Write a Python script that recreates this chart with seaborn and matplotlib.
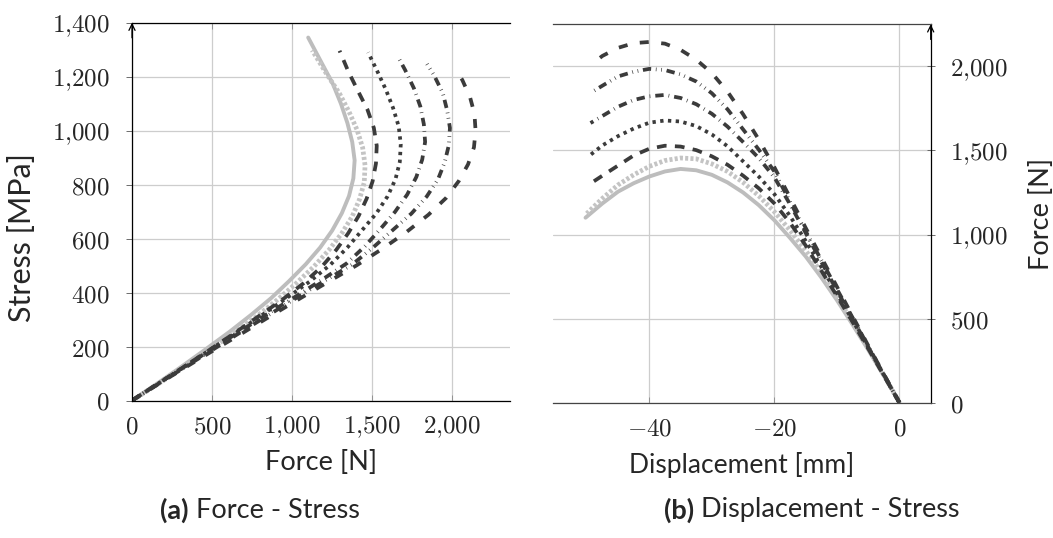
import numpy as np
import pandas as pd
import matplotlib
matplotlib.use("Agg")
import matplotlib.pyplot as plt
from matplotlib.ticker import FuncFormatter, FixedLocator
import seaborn as sns

# ---------------- data ----------------
curve_names = ["ref", "noisy", "c1", "c2", "c3", "c4", "c5"]
disp_grid = [0, -2.5, -5, -7.5, -10, -12.5, -15, -17.5, -20, -22.5, -25,
             -27.5, -30, -32.5, -35, -37.5, -40, -42.5, -45, -47.5]
end_disp = [-50.2, -50.0, -49.7, -49.4, -49.4, -49.4, -48.4]

force_ref = [0, 160, 315, 465, 610, 745, 870, 980, 1085, 1175, 1250, 1310, 1355,
             1382, 1390, 1375, 1345, 1305, 1255, 1185, 1100]
stress_ref = [0, 64, 128, 192, 255, 318, 380, 442, 505, 567, 630, 694, 758, 823,
              890, 958, 1028, 1099, 1172, 1250, 1345]

force_noisy = [0, 165, 325, 480, 630, 775, 905, 1025, 1135, 1230, 1310, 1375, 1420,
               1450, 1455, 1440, 1405, 1355, 1295, 1215, 1125]
stress_noisy = [0, 62, 124, 186, 248, 310, 372, 434, 496, 558, 620, 682, 745, 808,
                872, 937, 1003, 1070, 1138, 1210, 1298]

force_c1 = [0, 162, 322, 480, 635, 785, 935, 1070, 1185, 1275, 1350, 1415, 1465,
            1502, 1523, 1528, 1510, 1470, 1410, 1350, 1296]
stress_c1 = [0, 62, 124, 186, 248, 310, 372, 434, 496, 558, 620, 684, 748, 812,
             878, 944, 1010, 1078, 1148, 1220, 1296]

force_c2 = [0, 165, 328, 490, 650, 808, 962, 1110, 1240, 1345, 1435, 1525, 1595,
            1645, 1672, 1678, 1665, 1630, 1585, 1530, 1474]
stress_c2 = [0, 63, 126, 189, 252, 315, 378, 441, 504, 567, 630, 693, 756, 820,
             884, 950, 1016, 1084, 1152, 1222, 1290]

force_c3 = [0, 166, 332, 500, 668, 838, 1010, 1180, 1340, 1455, 1550, 1642, 1718,
            1775, 1812, 1830, 1822, 1800, 1760, 1705, 1663]
stress_c3 = [0, 64, 127, 191, 254, 318, 381, 445, 508, 572, 635, 699, 763, 828,
             893, 958, 1024, 1090, 1157, 1225, 1271]

force_c4 = [0, 168, 336, 506, 676, 848, 1020, 1195, 1375, 1505, 1625, 1745, 1840,
            1910, 1952, 1978, 1985, 1968, 1940, 1885, 1842]
stress_c4 = [0, 63, 126, 189, 252, 315, 378, 441, 504, 567, 630, 693, 756, 819,
             882, 946, 1010, 1074, 1140, 1206, 1247]

force_c5 = [0, 170, 340, 515, 690, 865, 1040, 1220, 1400, 1565, 1715, 1850, 1960,
            2040, 2098, 2135, 2145, 2138, 2110, 2062, 2036]
stress_c5 = [0, 63, 125, 188, 250, 313, 375, 438, 500, 563, 625, 688, 750, 813,
             875, 938, 1000, 1063, 1125, 1188, 1212]

force_ticks_left = [0, 500, 1000, 1500, 2000]
stress_ticks = [0, 200, 400, 600, 800, 1000, 1200, 1400]
disp_ticks = [-40, -20, 0]
force_ticks_right = [0, 500, 1000, 1500, 2000]

forces = [force_ref, force_noisy, force_c1, force_c2, force_c3, force_c4, force_c5]
stresses = [stress_ref, stress_noisy, stress_c1, stress_c2, stress_c3, stress_c4, stress_c5]

rows = []
for name, ed, f, s in zip(curve_names, end_disp, forces, stresses):
    d = disp_grid + [ed]
    for i in range(len(d)):
        rows.append({"curve": name, "order": i, "disp": d[i], "force": f[i], "stress": s[i]})
df = pd.DataFrame(rows)

# ---------------- styles ----------------
sns.set_style("white")
plt.rcParams["font.family"] = ["Lato", "DejaVu Sans"]
plt.rcParams["mathtext.fontset"] = "cm"
plt.rcParams["lines.scale_dashes"] = False

DARK = "#3b3b3b"
styles = {
    "ref":   dict(color="#bdbdbd", lw=2.8, ls="-"),
    "noisy": dict(color="#c4c4c4", lw=3.4, ls=(0, (2.2, 1.6))),
    "c1":    dict(color=DARK, lw=2.7, ls=(0, (7, 6))),
    "c2":    dict(color=DARK, lw=2.7, ls=(0, (2.4, 3.2))),
    "c3":    dict(color=DARK, lw=2.7, ls=(0, (6, 3.6, 0.5, 3.6))),
    "c4":    dict(color=DARK, lw=2.7, ls=(0, (6, 3.4, 0.5, 3.4, 0.5, 3.4))),
    "c5":    dict(color=DARK, lw=2.7, ls=(0, (6.5, 9))),
}

W, H = 1053, 538
fig = plt.figure(figsize=(W / 100, H / 100), dpi=100)

def frac_rect(x0, x1, ytop, ybot):
    return [x0 / W, 1 - ybot / H, (x1 - x0) / W, (ybot - ytop) / H]

axL = fig.add_axes(frac_rect(132, 510, 22.7, 400.5))
axR = fig.add_axes(frac_rect(552.7, 930.7, 24.3, 402.7))

def tex_fmt(v, pos=None):
    v = int(round(v))
    s = f"{abs(v):,}".replace(",", "{,}")
    return f"$-{s}$" if v < 0 else f"${s}$"

for name in curve_names:
    sub = df[df["curve"] == name].sort_values("order")
    st = styles[name]
    sns.lineplot(data=sub, x="force", y="stress", ax=axL, sort=False, estimator=None,
                 color=st["color"], linewidth=st["lw"], linestyle=st["ls"],
                 dash_capstyle="butt", legend=False)
    sns.lineplot(data=sub, x="disp", y="force", ax=axR, sort=False, estimator=None,
                 color=st["color"], linewidth=st["lw"], linestyle=st["ls"],
                 dash_capstyle="butt", legend=False)

GRID = "#cdcdcd"
# ---- left axes ----
axL.set_xlim(0, 2360)
axL.set_ylim(0, 1400)
axL.xaxis.set_major_locator(FixedLocator(force_ticks_left))
axL.yaxis.set_major_locator(FixedLocator(stress_ticks))
axL.xaxis.set_major_formatter(FuncFormatter(tex_fmt))
axL.yaxis.set_major_formatter(FuncFormatter(tex_fmt))
axL.grid(True, color=GRID, lw=0.9)
axL.set_axisbelow(True)
for sp in ["left", "top", "bottom"]:
    axL.spines[sp].set_visible(True)
    axL.spines[sp].set_color("black")
    axL.spines[sp].set_linewidth(0.9)
axL.spines["right"].set_visible(False)
axL.tick_params(axis="y", which="both", left=True, direction="out", length=4,
                width=0.6, color="#555555", labelsize=18, pad=12)
axL.tick_params(axis="x", which="both", bottom=True, top=True, direction="in",
                length=4, width=0.6, color="#888888", labelsize=18, pad=10)
axL.set_xlabel("Force [N]", fontsize=19.5)
axL.set_ylabel("Stress [MPa]", fontsize=22)
axL.xaxis.set_label_coords(0.5, -0.165)
axL.xaxis.label.set_va("center")
axL.yaxis.set_label_coords(-0.291, 0.43)
axL.yaxis.label.set_va("center")
axL.annotate("", xy=(0, 1.0), xytext=(0, 0.96), xycoords="axes fraction",
             arrowprops=dict(arrowstyle="->,head_length=0.45,head_width=0.22",
                             lw=0.9, color="black", shrinkA=0, shrinkB=0))

# ---- right axes ----
axR.set_xlim(-55.45, 5.0)
axR.set_ylim(0, 2250)
axR.xaxis.set_major_locator(FixedLocator(disp_ticks))
axR.yaxis.set_major_locator(FixedLocator(force_ticks_right))
axR.xaxis.set_major_formatter(FuncFormatter(tex_fmt))
axR.yaxis.set_major_formatter(FuncFormatter(tex_fmt))
axR.yaxis.tick_right()
axR.yaxis.set_label_position("right")
axR.grid(True, color=GRID, lw=0.9)
axR.set_axisbelow(True)
for sp in ["right", "top", "bottom"]:
    axR.spines[sp].set_visible(True)
    axR.spines[sp].set_color("black")
    axR.spines[sp].set_linewidth(0.9)
axR.spines["top"].set_color("#444444")
axR.spines["bottom"].set_color("#444444")
axR.spines["left"].set_visible(False)
axR.tick_params(axis="y", which="both", right=True, left=False, direction="inout",
                length=6, width=0.6, color="#555555", labelsize=18, pad=11)
axR.tick_params(axis="x", which="both", bottom=True, direction="in", length=4,
                width=0.6, color="#888888", labelsize=18, pad=10)
axR.set_xlabel("Displacement [mm]", fontsize=19)
axR.set_ylabel("Force [N]", fontsize=19.5)
axR.xaxis.set_label_coords(0.5, -0.165)
axR.xaxis.label.set_va("center")
axR.yaxis.set_label_coords(1.292, 0.5)
axR.yaxis.label.set_va("center")
axR.annotate("", xy=(1, 1.0), xytext=(1, 0.96), xycoords="axes fraction",
             arrowprops=dict(arrowstyle="->,head_length=0.45,head_width=0.22",
                             lw=0.9, color="black", shrinkA=0, shrinkB=0))

# ---- captions ----
fig.canvas.draw()
renderer = fig.canvas.get_renderer()

def caption(xc, yc, bold, rest, size=19.5):
    t1 = fig.text(0, 1 - yc / H, bold, fontsize=size, fontweight="bold", va="center", ha="left")
    t2 = fig.text(0, 1 - yc / H, " " + rest, fontsize=size, va="center", ha="left")
    w1 = t1.get_window_extent(renderer).width
    w2 = t2.get_window_extent(renderer).width
    x0 = xc - (w1 + w2) / 2
    t1.set_x(x0 / W)
    t2.set_x((x0 + w1) / W)

caption(260, 510, "(a)", "Force - Stress")
caption(812, 510, "(b)", "Displacement - Stress")

fig.savefig("out.png", dpi=100)
